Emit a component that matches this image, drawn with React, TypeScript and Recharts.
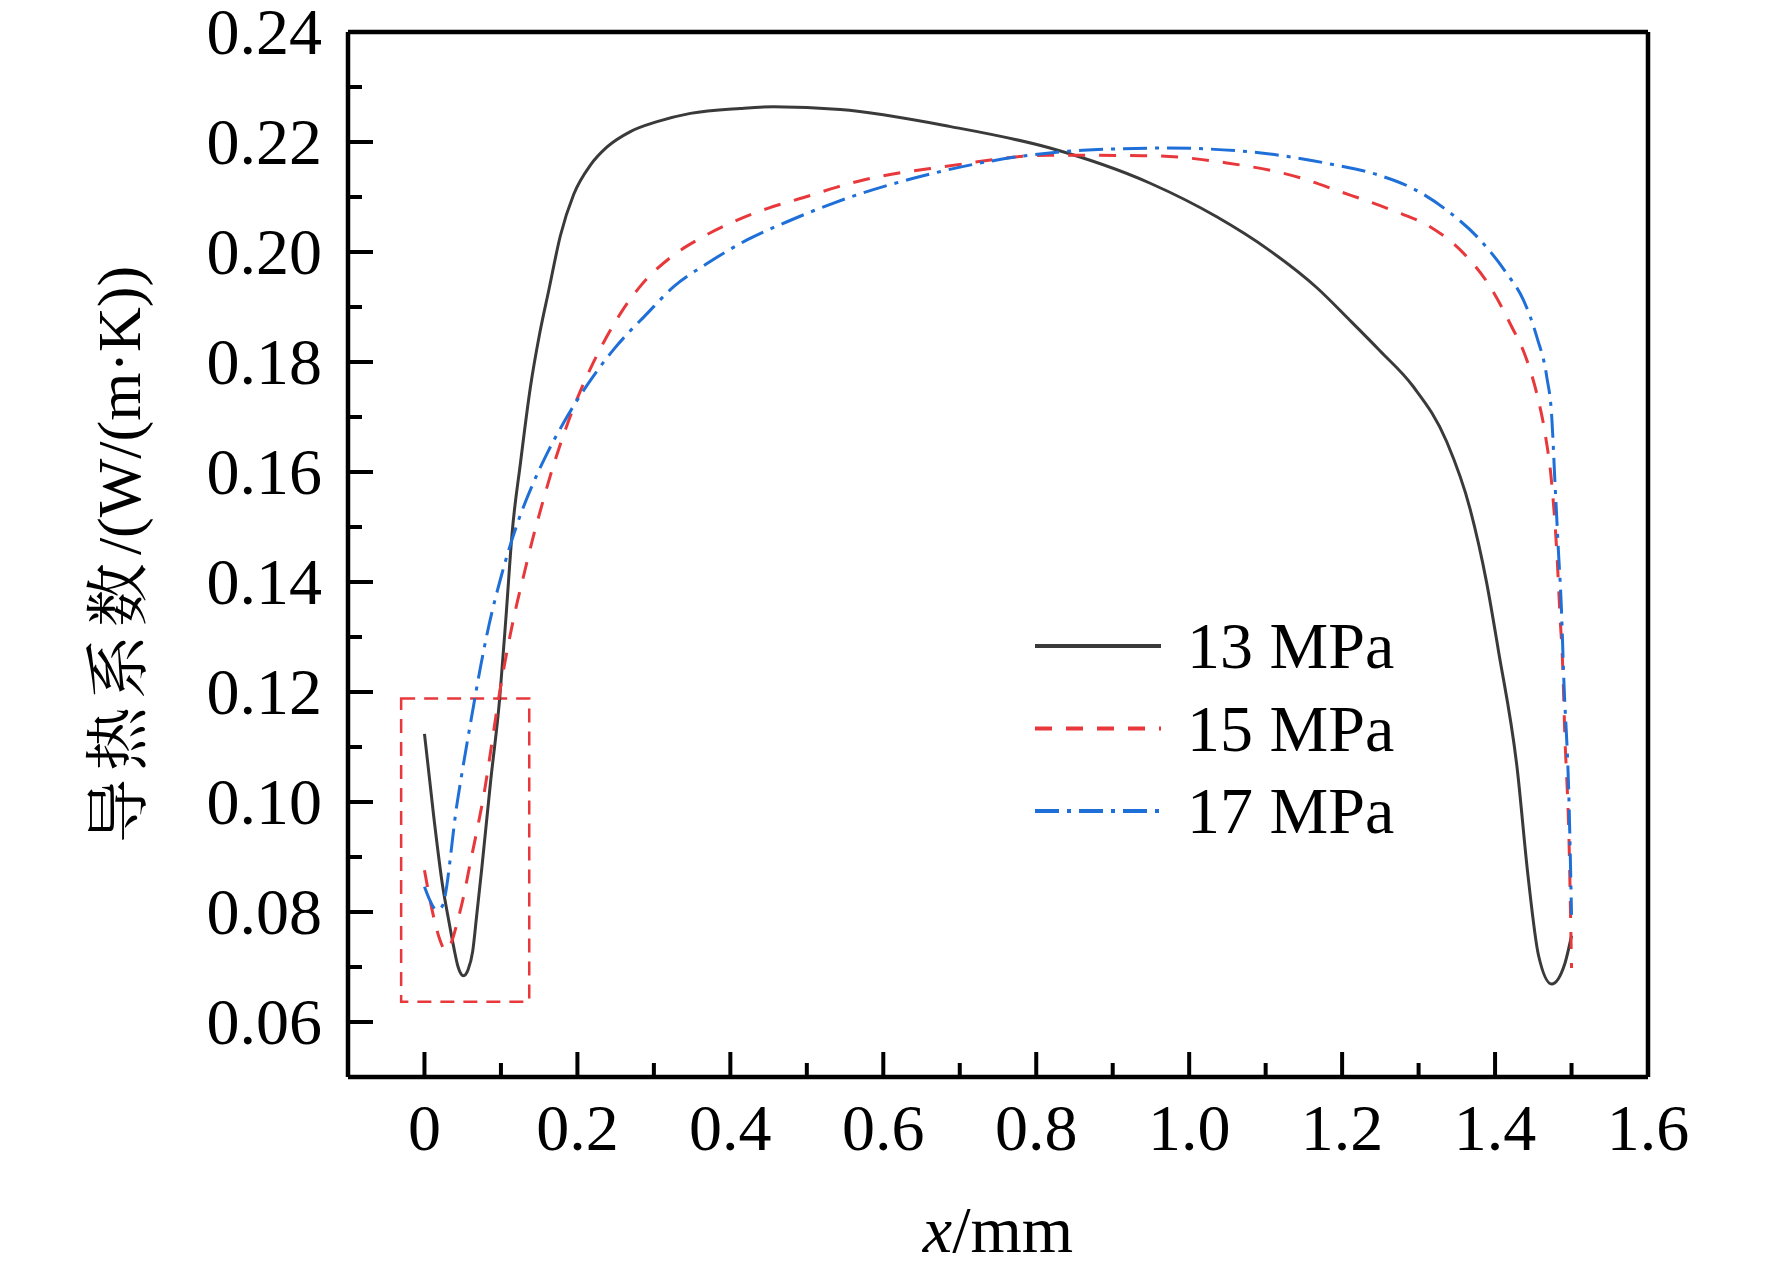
import { LineChart, Line, XAxis, YAxis, ReferenceLine, ReferenceArea, Legend, Label } from 'recharts';

// series: [x (mm), thermal conductivity (W/(m·K))]
const p13: [number, number][] = [
    [0, 0.1124], [0.012, 0.0975], [0.024, 0.0845], [0.031, 0.079], [0.038, 0.0738],
    [0.044, 0.07], [0.051, 0.0684], [0.057, 0.0695], [0.063, 0.0728], [0.068, 0.079],
    [0.075, 0.088], [0.0863, 0.1035], [0.0984, 0.1189], [0.107, 0.1344], [0.1146, 0.1489],
    [0.1255, 0.1616], [0.1386, 0.1755], [0.1504, 0.185], [0.1625, 0.193], [0.1778, 0.203],
    [0.1952, 0.2105], [0.217, 0.2158], [0.2388, 0.2191], [0.2693, 0.2219], [0.3042, 0.2237],
    [0.3477, 0.2252], [0.4131, 0.2261], [0.4566, 0.2264], [0.5438, 0.2259], [0.688, 0.2228],
    [0.818, 0.2189], [0.949, 0.2125], [1.036, 0.2064], [1.105, 0.2003], [1.167, 0.1935],
    [1.21, 0.1876], [1.2497, 0.182], [1.2932, 0.1755], [1.3368, 0.1655], [1.3673, 0.1533],
    [1.3891, 0.1398], [1.4043, 0.1276], [1.429, 0.106], [1.443, 0.0867], [1.457, 0.072],
    [1.474, 0.0669], [1.491, 0.0705], [1.5, 0.0757],
];

const p15: [number, number][] = [
    [0, 0.0876], [0.012, 0.0791], [0.02, 0.075], [0.0275, 0.073], [0.036, 0.0748],
    [0.043, 0.0782], [0.0514, 0.083], [0.06, 0.089], [0.0689, 0.095], [0.0785, 0.102],
    [0.0863, 0.109], [0.097, 0.1188], [0.109, 0.1282], [0.119, 0.1349], [0.1298, 0.1412],
    [0.1407, 0.1474], [0.1516, 0.153], [0.1647, 0.1594], [0.18, 0.166], [0.1996, 0.1733],
    [0.217, 0.1788], [0.2344, 0.1836], [0.2562, 0.1888], [0.2824, 0.1938], [0.3216, 0.199],
    [0.3608, 0.2025], [0.4043, 0.2055], [0.448, 0.2079], [0.4959, 0.2099], [0.5394, 0.2118],
    [0.574, 0.2131], [0.679, 0.2155], [0.818, 0.2176], [0.949, 0.2175], [1.049, 0.2162],
    [1.145, 0.2135], [1.193, 0.2112], [1.267, 0.2075], [1.315, 0.2046], [1.3586, 0.1998],
    [1.3935, 0.1937], [1.4196, 0.187], [1.4414, 0.1804], [1.4545, 0.1743], [1.4654, 0.167],
    [1.4741, 0.1579], [1.4806, 0.1458], [1.485, 0.1337], [1.4885, 0.1246], [1.491, 0.1133],
    [1.497, 0.0913], [1.5, 0.0698],
];

const p17: [number, number][] = [
    [0, 0.0846], [0.0166, 0.0804], [0.023, 0.081], [0.0427, 0.0998], [0.0623, 0.116],
    [0.0732, 0.1245], [0.0841, 0.132], [0.0993, 0.1405], [0.1124, 0.1468], [0.1255, 0.1522],
    [0.1429, 0.1582], [0.1604, 0.1634], [0.1821, 0.169], [0.2127, 0.1758], [0.2475, 0.1823],
    [0.2911, 0.1888], [0.3259, 0.1937], [0.3695, 0.1979], [0.4218, 0.2022], [0.4741, 0.2055],
    [0.535, 0.2089], [0.665, 0.2143], [0.775, 0.2173], [0.861, 0.2185], [0.971, 0.2189],
    [1.08, 0.2182], [1.188, 0.2159], [1.2497, 0.2139], [1.2932, 0.2115], [1.3368, 0.2076],
    [1.3804, 0.2022], [1.4153, 0.1961], [1.437, 0.1913], [1.4545, 0.1846], [1.4676, 0.1773],
    [1.4741, 0.1701], [1.4784, 0.1579], [1.4828, 0.1458], [1.4872, 0.1337], [1.4893, 0.1246],
    [1.497, 0.0985], [1.5, 0.0795],
];

const xTicks = [0, 0.1, 0.2, 0.3, 0.4, 0.5, 0.6, 0.7, 0.8, 0.9, 1.0, 1.1, 1.2, 1.3, 1.4, 1.5, 1.6];
const yTicks = [0.06, 0.07, 0.08, 0.09, 0.1, 0.11, 0.12, 0.13, 0.14, 0.15, 0.16, 0.17, 0.18, 0.19, 0.2, 0.21, 0.22, 0.23, 0.24];
const xDomain = [-0.1, 1.6];
const yDomain = [0.05, 0.24];

// dashed box around the left minimum
const boxX = [-0.0305, 0.137];
const boxY = [0.0637, 0.1188];

const seriesInfo = [
    { name: '13 MPa', data: p13, color: '#3a3a3a', dash: undefined },
    { name: '15 MPa', data: p15, color: '#e8383b', dash: '17 14' },
    { name: '17 MPa', data: p17, color: '#1f6fd8', dash: '24 8 4 8' },
];

const toRows = (pts: [number, number][]) => pts.map(([x, y]) => ({ x, y }));

const FONT = "'Liberation Serif', 'Times New Roman', serif";
const CJK = "'Noto Serif CJK SC', 'Noto Sans CJK SC', sans-serif";

const XTick = ({ x, y, payload }: any) => {
    const v = payload.value;
    const major = Math.round(v * 10) % 2 === 0;
    const text = v === 0 ? '0' : v.toFixed(1);
    return (
        <g>
            <line x1={x} y1={y} x2={x} y2={y - (major ? 25 : 14)} stroke="#000" strokeWidth={4} />
            {major && (
                <text x={x} y={y + 73} textAnchor="middle" fontFamily={FONT} fontSize={66} fill="#000">
                    {text}
                </text>
            )}
        </g>
    );
};

const YTick = ({ x, y, payload }: any) => {
    const v = payload.value;
    const major = Math.round(v * 100) % 2 === 0;
    return (
        <g>
            <line x1={x} y1={y} x2={x + (major ? 25 : 14)} y2={y} stroke="#000" strokeWidth={4} />
            {major && (
                <text x={x - 26} y={y + 22} textAnchor="end" fontFamily={FONT} fontSize={66} fill="#000">
                    {v.toFixed(2)}
                </text>
            )}
        </g>
    );
};

const renderLegend = () => (
    <svg width={420} height={260}>
        {seriesInfo.map((s, i) => {
            const cy = 46 + i * 82.5;
            return (
                <g key={s.name}>
                    <line x1={5} y1={cy} x2={131} y2={cy} stroke={s.color} strokeWidth={4} strokeDasharray={s.dash} />
                    <text x={157} y={cy + 22} fontFamily={FONT} fontSize={66} fill="#000">
                        {s.name}
                    </text>
                </g>
            );
        })}
    </svg>
);

const XTitle = ({ viewBox }: any) => (
    <text x={viewBox.x + viewBox.width / 2} y={viewBox.y + 175} textAnchor="middle" fontFamily={FONT} fontSize={66} fill="#000">
        <tspan fontStyle="italic">x</tspan>/mm
    </text>
);

const YTitle = ({ viewBox }: any) => {
    const cx = 140;
    const cy = viewBox.y + viewBox.height / 2;
    return (
        <text x={cx} y={cy} transform={`rotate(-90, ${cx}, ${cy})`} textAnchor="middle" fontFamily={FONT} fontSize={62} fill="#000">
            <tspan fontFamily={CJK} fontSize={64} letterSpacing={8}>导热系数</tspan>/(W/(m·K))
        </text>
    );
};

const App = () => {
    return (
        <div style={{ position: 'absolute', left: 0, top: 0, width: 1772, height: 1271, background: '#fff' }}>
            <LineChart width={1772} height={1271} margin={{ top: 32, right: 124, bottom: 0, left: 0 }}>
                <XAxis
                    dataKey="x"
                    type="number"
                    domain={xDomain}
                    ticks={xTicks}
                    allowDataOverflow
                    height={194}
                    tickSize={0}
                    tickMargin={0}
                    tickLine={false}
                    axisLine={{ stroke: '#000', strokeWidth: 4.5 }}
                    tick={<XTick />}
                    interval={0}
                >
                    <Label content={<XTitle />} />
                </XAxis>
                <YAxis
                    type="number"
                    domain={yDomain}
                    ticks={yTicks}
                    allowDataOverflow
                    width={348}
                    tickSize={0}
                    tickMargin={0}
                    tickLine={false}
                    axisLine={{ stroke: '#000', strokeWidth: 4.5 }}
                    tick={<YTick />}
                    interval={0}
                >
                    <Label content={<YTitle />} />
                </YAxis>
                <ReferenceLine y={0.24} stroke="#000" strokeWidth={4.5} />
                <ReferenceLine x={1.6} stroke="#000" strokeWidth={4.5} />
                <ReferenceArea
                    x1={boxX[0]}
                    x2={boxX[1]}
                    y1={boxY[0]}
                    y2={boxY[1]}
                    fill="none"
                    fillOpacity={0}
                    stroke="#e8383b"
                    strokeWidth={2.5}
                    strokeDasharray="14 9"
                />
                {seriesInfo.map((s) => (
                    <Line
                        key={s.name}
                        data={toRows(s.data)}
                        dataKey="y"
                        name={s.name}
                        type="monotone"
                        stroke={s.color}
                        strokeWidth={3}
                        strokeDasharray={s.dash}
                        dot={false}
                        activeDot={false}
                        isAnimationActive={false}
                    />
                ))}
                <Legend
                    layout="vertical"
                    align="center"
                    verticalAlign="middle"
                    content={renderLegend}
                    wrapperStyle={{ left: 1030, top: 600, width: 420, height: 260 }}
                />
            </LineChart>
        </div>
    );
};

export default App;
